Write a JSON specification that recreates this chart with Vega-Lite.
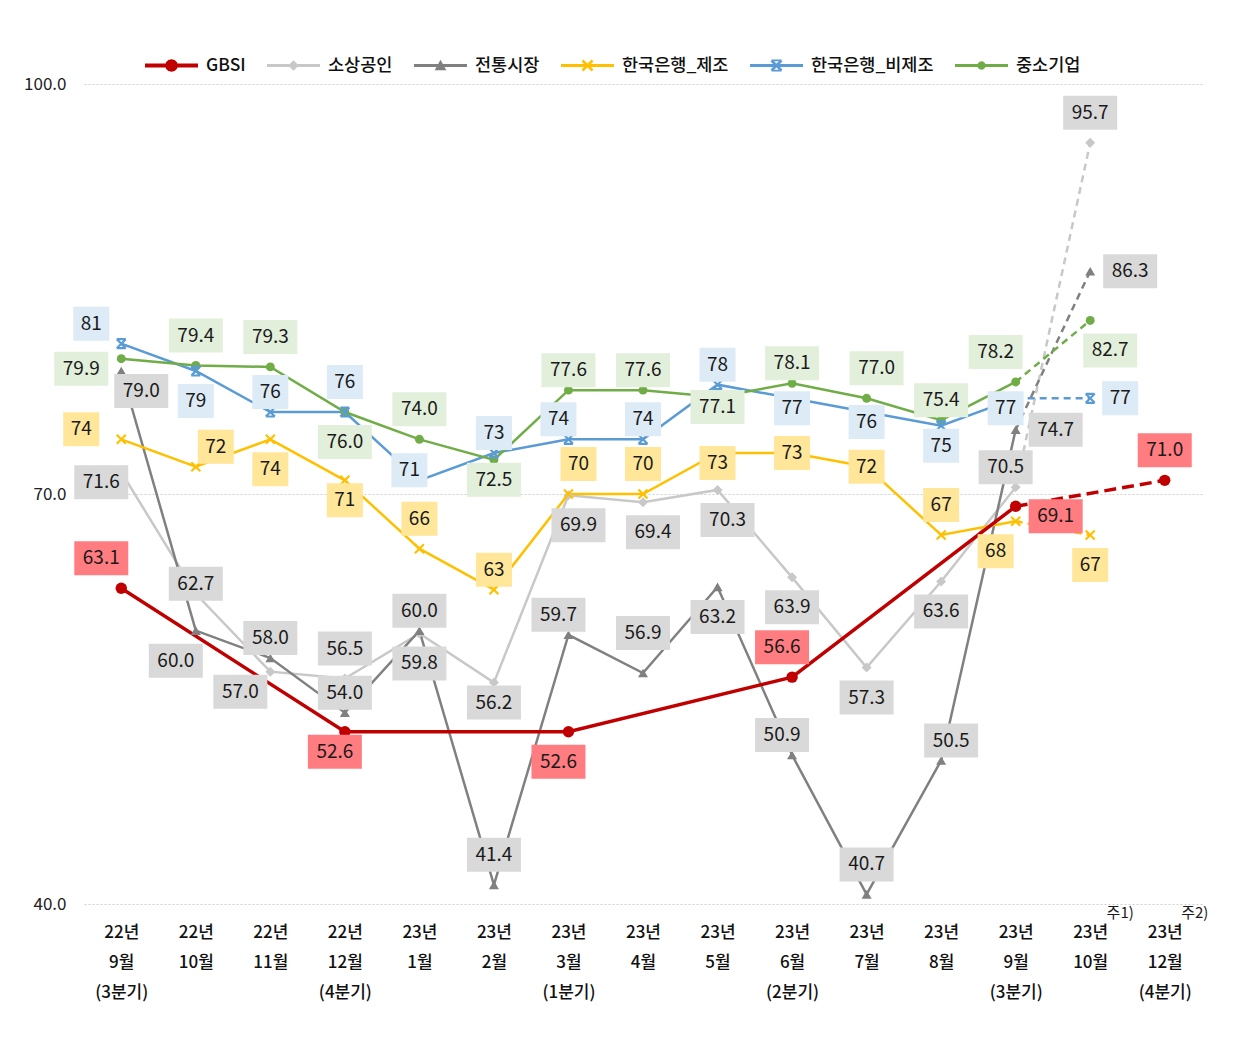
{
  "$schema": "https://vega.github.io/schema/vega-lite/v6.json",
  "width": 1118,
  "height": 820,
  "autosize": {"type": "none"},
  "padding": {"left": 84, "top": 84, "right": 41, "bottom": 136},
  "background": "white",
  "config": {"view": {"stroke": null}, "font": "Noto Sans CJK KR"},
  "data": {
    "values": [
      {"series": "소상공인", "month": "22년 9월 (3분기)", "value": 71.6, "h": "L2", "v": "D1"},
      {"series": "소상공인", "month": "22년 10월", "value": 62.7, "h": "C", "v": "U1"},
      {"series": "소상공인", "month": "22년 11월", "value": 57.0, "h": "L3", "v": "D2"},
      {"series": "소상공인", "month": "22년 12월 (4분기)", "value": 56.5, "h": "C", "v": "U3"},
      {"series": "소상공인", "month": "23년 1월", "value": 59.8, "h": "C", "v": "D3"},
      {"series": "소상공인", "month": "23년 2월", "value": 56.2, "h": "C", "v": "D2"},
      {"series": "소상공인", "month": "23년 3월 (1분기)", "value": 69.9, "h": "R1", "v": "D3"},
      {"series": "소상공인", "month": "23년 4월", "value": 69.4, "h": "R1", "v": "D3"},
      {"series": "소상공인", "month": "23년 5월", "value": 70.3, "h": "R1", "v": "D3"},
      {"series": "소상공인", "month": "23년 6월 (2분기)", "value": 63.9, "h": "C", "v": "D3"},
      {"series": "소상공인", "month": "23년 7월", "value": 57.3, "h": "C", "v": "D3"},
      {"series": "소상공인", "month": "23년 8월", "value": 63.6, "h": "C", "v": "D3"},
      {"series": "소상공인", "month": "23년 9월 (3분기)", "value": 70.5, "h": "L1", "v": "U2"},
      {"series": "소상공인", "month": "23년 10월", "value": 95.7, "h": "C", "v": "U3", "note": "주1)"},

      {"series": "전통시장", "month": "22년 9월 (3분기)", "value": 79.0, "h": "R2", "v": "D2"},
      {"series": "전통시장", "month": "22년 10월", "value": 60.0, "h": "L2", "v": "D3"},
      {"series": "전통시장", "month": "22년 11월", "value": 58.0, "h": "C", "v": "U2"},
      {"series": "전통시장", "month": "22년 12월 (4분기)", "value": 54.0, "h": "C", "v": "U2"},
      {"series": "전통시장", "month": "23년 1월", "value": 60.0, "h": "C", "v": "U2"},
      {"series": "전통시장", "month": "23년 2월", "value": 41.4, "h": "C", "v": "U3"},
      {"series": "전통시장", "month": "23년 3월 (1분기)", "value": 59.7, "h": "L1", "v": "U2"},
      {"series": "전통시장", "month": "23년 4월", "value": 56.9, "h": "C", "v": "U4"},
      {"series": "전통시장", "month": "23년 5월", "value": 63.2, "h": "C", "v": "D3"},
      {"series": "전통시장", "month": "23년 6월 (2분기)", "value": 50.9, "h": "L1", "v": "U2"},
      {"series": "전통시장", "month": "23년 7월", "value": 40.7, "h": "C", "v": "U3"},
      {"series": "전통시장", "month": "23년 8월", "value": 50.5, "h": "R1", "v": "U2"},
      {"series": "전통시장", "month": "23년 9월 (3분기)", "value": 74.7, "h": "R4", "v": "M"},
      {"series": "전통시장", "month": "23년 10월", "value": 86.3, "h": "R4", "v": "M"},

      {"series": "한국은행_제조", "month": "22년 9월 (3분기)", "value": 74, "h": "L4", "v": "U1"},
      {"series": "한국은행_제조", "month": "22년 10월", "value": 72, "h": "R2", "v": "U2"},
      {"series": "한국은행_제조", "month": "22년 11월", "value": 74, "h": "C", "v": "D3"},
      {"series": "한국은행_제조", "month": "22년 12월 (4분기)", "value": 71, "h": "C", "v": "D2"},
      {"series": "한국은행_제조", "month": "23년 1월", "value": 66, "h": "C", "v": "U3"},
      {"series": "한국은행_제조", "month": "23년 2월", "value": 63, "h": "C", "v": "U2"},
      {"series": "한국은행_제조", "month": "23년 3월 (1분기)", "value": 70, "h": "R1", "v": "U3"},
      {"series": "한국은행_제조", "month": "23년 4월", "value": 70, "h": "C", "v": "U3"},
      {"series": "한국은행_제조", "month": "23년 5월", "value": 73, "h": "C", "v": "D1"},
      {"series": "한국은행_제조", "month": "23년 6월 (2분기)", "value": 73, "h": "C", "v": "M"},
      {"series": "한국은행_제조", "month": "23년 7월", "value": 72, "h": "C", "v": "M"},
      {"series": "한국은행_제조", "month": "23년 8월", "value": 67, "h": "C", "v": "U3"},
      {"series": "한국은행_제조", "month": "23년 9월 (3분기)", "value": 68, "h": "L2", "v": "D3"},
      {"series": "한국은행_제조", "month": "23년 10월", "value": 67, "h": "C", "v": "D3"},

      {"series": "한국은행_비제조", "month": "22년 9월 (3분기)", "value": 81, "h": "L3", "v": "U2"},
      {"series": "한국은행_비제조", "month": "22년 10월", "value": 79, "h": "C", "v": "D3"},
      {"series": "한국은행_비제조", "month": "22년 11월", "value": 76, "h": "C", "v": "U2"},
      {"series": "한국은행_비제조", "month": "22년 12월 (4분기)", "value": 76, "h": "C", "v": "U3"},
      {"series": "한국은행_비제조", "month": "23년 1월", "value": 71, "h": "L1", "v": "U1"},
      {"series": "한국은행_비제조", "month": "23년 2월", "value": 73, "h": "C", "v": "U2"},
      {"series": "한국은행_비제조", "month": "23년 3월 (1분기)", "value": 74, "h": "L1", "v": "U2"},
      {"series": "한국은행_비제조", "month": "23년 4월", "value": 74, "h": "C", "v": "U2"},
      {"series": "한국은행_비제조", "month": "23년 5월", "value": 78, "h": "C", "v": "U2"},
      {"series": "한국은행_비제조", "month": "23년 6월 (2분기)", "value": 77, "h": "C", "v": "D1"},
      {"series": "한국은행_비제조", "month": "23년 7월", "value": 76, "h": "C", "v": "D1"},
      {"series": "한국은행_비제조", "month": "23년 8월", "value": 75, "h": "C", "v": "D2"},
      {"series": "한국은행_비제조", "month": "23년 9월 (3분기)", "value": 77, "h": "L1", "v": "D1"},
      {"series": "한국은행_비제조", "month": "23년 10월", "value": 77, "h": "R3", "v": "M"},

      {"series": "중소기업", "month": "22년 9월 (3분기)", "value": 79.9, "h": "L4", "v": "D1"},
      {"series": "중소기업", "month": "22년 10월", "value": 79.4, "h": "C", "v": "U3"},
      {"series": "중소기업", "month": "22년 11월", "value": 79.3, "h": "C", "v": "U3"},
      {"series": "중소기업", "month": "22년 12월 (4분기)", "value": 76.0, "h": "C", "v": "D3"},
      {"series": "중소기업", "month": "23년 1월", "value": 74.0, "h": "C", "v": "U3"},
      {"series": "중소기업", "month": "23년 2월", "value": 72.5, "h": "C", "v": "D2"},
      {"series": "중소기업", "month": "23년 3월 (1분기)", "value": 77.6, "h": "C", "v": "U2"},
      {"series": "중소기업", "month": "23년 4월", "value": 77.6, "h": "C", "v": "U2"},
      {"series": "중소기업", "month": "23년 5월", "value": 77.1, "h": "C", "v": "D1"},
      {"series": "중소기업", "month": "23년 6월 (2분기)", "value": 78.1, "h": "C", "v": "U2"},
      {"series": "중소기업", "month": "23년 7월", "value": 77.0, "h": "R1", "v": "U3"},
      {"series": "중소기업", "month": "23년 8월", "value": 75.4, "h": "C", "v": "U2"},
      {"series": "중소기업", "month": "23년 9월 (3분기)", "value": 78.2, "h": "L2", "v": "U3"},
      {"series": "중소기업", "month": "23년 10월", "value": 82.7, "h": "R2", "v": "D3"},

      {"series": "GBSI", "month": "22년 9월 (3분기)", "value": 63.1, "h": "L2", "v": "U3"},
      {"series": "GBSI", "month": "22년 12월 (4분기)", "value": 52.6, "h": "L1", "v": "D2"},
      {"series": "GBSI", "month": "23년 3월 (1분기)", "value": 52.6, "h": "L1", "v": "D3"},
      {"series": "GBSI", "month": "23년 6월 (2분기)", "value": 56.6, "h": "L1", "v": "U3"},
      {"series": "GBSI", "month": "23년 9월 (3분기)", "value": 69.1, "h": "R4", "v": "D1"},
      {"series": "GBSI", "month": "23년 12월 (4분기)", "value": 71.0, "h": "C", "v": "U3", "note": "주2)"}
    ]
  },
  "encoding": {
    "x": {
      "field": "month",
      "type": "ordinal",
      "scale": {
        "type": "point",
        "padding": 0.5,
        "domain": ["22년 9월 (3분기)", "22년 10월", "22년 11월", "22년 12월 (4분기)", "23년 1월", "23년 2월", "23년 3월 (1분기)", "23년 4월", "23년 5월", "23년 6월 (2분기)", "23년 7월", "23년 8월", "23년 9월 (3분기)", "23년 10월", "23년 12월 (4분기)"]
      },
      "axis": {
        "title": null,
        "domain": false,
        "ticks": false,
        "grid": false,
        "labelAngle": 0,
        "labelExpr": "split(datum.label, ' ')",
        "labelFont": "Noto Sans CJK KR",
        "labelFontSize": 17,
        "labelFontWeight": 500,
        "labelColor": "#111111",
        "labelLineHeight": 30,
        "labelPadding": 20,
        "labelBaseline": "top",
        "labelOverlap": false,
        "labelBound": false
      }
    },
    "y": {
      "field": "value",
      "type": "quantitative",
      "scale": {"domain": [40, 100], "nice": false, "zero": false},
      "axis": {
        "title": null,
        "values": [40, 70, 100],
        "format": ".1f",
        "domain": false,
        "ticks": false,
        "grid": true,
        "gridColor": "#CFCFCF",
        "gridDash": [2, 2],
        "labelFont": "Noto Sans CJK KR",
        "labelFontSize": 17,
        "labelColor": "#222222",
        "labelPadding": 18
      }
    }
  },
  "layer": [
    {
      "transform": [{"filter": "false"}],
      "mark": {"type": "point", "filled": true, "opacity": 0},
      "encoding": {
        "color": {
          "field": "series",
          "type": "nominal",
          "scale": {
            "domain": ["GBSI", "소상공인", "전통시장", "한국은행_제조", "한국은행_비제조", "중소기업"],
            "range": ["#C00000", "#C8C8C8", "#808080", "#FFC000", "#5B9BD5", "#70AD47"]
          },
          "legend": {
            "title": null,
            "orient": "none",
            "legendX": 61,
            "legendY": -45,
            "direction": "horizontal",
            "padding": 0,
            "symbolSize": 2809,
            "symbolOpacity": 1,
            "symbolStrokeWidth": 0,
            "labelFont": "Noto Sans CJK KR",
            "labelFontSize": 17.5,
            "labelFontWeight": 500,
            "labelColor": "#111111",
            "labelOffset": 8,
            "columnPadding": 21
          }
        },
        "shape": {
          "field": "series",
          "type": "nominal",
          "scale": {
            "domain": ["GBSI", "소상공인", "전통시장", "한국은행_제조", "한국은행_비제조", "중소기업"],
            "range": [
              "M-1,-0.075L1,-0.075L1,0.075L-1,0.075Z M0.24,0L0.208,0.12L0.12,0.208L0,0.24L-0.12,0.208L-0.208,0.12L-0.24,0L-0.208,-0.12L-0.12,-0.208L0,-0.24L0.12,-0.208L0.208,-0.12Z",
              "M-1,-0.055L1,-0.055L1,0.055L-1,0.055Z M0,-0.2L0.2,0L0,0.2L-0.2,0Z",
              "M-1,-0.055L1,-0.055L1,0.055L-1,0.055Z M0,-0.22L0.22,0.18L-0.22,0.18Z",
              "M-1,-0.055L1,-0.055L1,0.055L-1,0.055Z M-0.155,-0.225L0.225,0.155L0.155,0.225L-0.225,-0.155Z M0.155,-0.225L0.225,-0.155L-0.155,0.225L-0.225,0.155Z",
              "M-1,-0.055L1,-0.055L1,0.055L-1,0.055Z M-0.155,-0.225L0.225,0.155L0.155,0.225L-0.225,-0.155Z M0.155,-0.225L0.225,-0.155L-0.155,0.225L-0.225,0.155Z M-0.19,-0.225L0.19,-0.225L0.19,-0.16L-0.19,-0.16Z M-0.19,0.16L0.19,0.16L0.19,0.225L-0.19,0.225Z",
              "M-1,-0.055L1,-0.055L1,0.055L-1,0.055Z M0.16,0L0.139,0.08L0.08,0.139L0,0.16L-0.08,0.139L-0.139,0.08L-0.16,0L-0.139,-0.08L-0.08,-0.139L0,-0.16L0.08,-0.139L0.139,-0.08Z"
            ]
          },
          "legend": {
            "title": null,
            "orient": "none",
            "legendX": 61,
            "legendY": -45,
            "direction": "horizontal",
            "padding": 0,
            "symbolSize": 2809,
            "symbolOpacity": 1,
            "symbolStrokeWidth": 0,
            "labelFont": "Noto Sans CJK KR",
            "labelFontSize": 17.5,
            "labelFontWeight": 500,
            "labelColor": "#111111",
            "labelOffset": 8,
            "columnPadding": 21
          }
        }
      }
    },
    {
      "transform": [{"filter": {"not": {"field": "month", "oneOf": ["23년 10월", "23년 12월 (4분기)"]}}}],
      "mark": {"type": "line"},
      "encoding": {
        "color": {"field": "series", "type": "nominal"},
        "strokeWidth": {"condition": {"test": "datum.series === 'GBSI'", "value": 3.5}, "value": 2.5}
      }
    },
    {
      "transform": [{"filter": {"field": "month", "oneOf": ["23년 9월 (3분기)", "23년 10월", "23년 12월 (4분기)"]}}],
      "mark": {"type": "line"},
      "encoding": {
        "color": {"field": "series", "type": "nominal"},
        "strokeWidth": {"condition": {"test": "datum.series === 'GBSI'", "value": 3.5}, "value": 2.5},
        "strokeDash": {"condition": {"test": "datum.series === 'GBSI'", "value": [12, 6]}, "value": [7, 5]}
      }
    },
    {
      "transform": [{"filter": {"field": "series", "oneOf": ["GBSI", "소상공인", "전통시장", "중소기업"]}}],
      "mark": {"type": "point", "filled": true, "opacity": 1},
      "encoding": {
        "color": {"field": "series", "type": "nominal"},
        "shape": {
          "condition": [
            {"test": "datum.series === '소상공인'", "value": "diamond"},
            {"test": "datum.series === '전통시장'", "value": "triangle-up"}
          ],
          "value": "circle"
        },
        "size": {
          "condition": [
            {"test": "datum.series === 'GBSI'", "value": 130},
            {"test": "datum.series === '중소기업'", "value": 80}
          ],
          "value": 100
        }
      }
    },
    {
      "transform": [{"filter": {"field": "series", "oneOf": ["한국은행_제조", "한국은행_비제조"]}}],
      "mark": {"type": "point", "filled": false, "opacity": 1, "strokeWidth": 2.2},
      "encoding": {
        "color": {"field": "series", "type": "nominal"},
        "shape": {
          "condition": {"test": "datum.series === '한국은행_비제조'", "value": "M-1,-1L1,1M1,-1L-1,1M-1,-1L1,-1M-1,1L1,1"},
          "value": "M-1,-1L1,1M1,-1L-1,1"
        },
        "size": {"value": 81}
      }
    },
    {
      "mark": {
        "type": "rect",
        "xOffset": {"expr": "(indexof(['L4','L3','L2','L1','C','R1','R2','R3','R4'], datum.h) - 4) * 10 - (indexof(datum.series, '한국은행') === 0 ? 18 : 27)"},
        "x2Offset": {"expr": "(indexof(['L4','L3','L2','L1','C','R1','R2','R3','R4'], datum.h) - 4) * 10 + (indexof(datum.series, '한국은행') === 0 ? 18 : 27)"},
        "yOffset": {"expr": "(indexof(['U4','U3','U2','U1','M','D1','D2','D3','D4'], datum.v) - 4) * 10 - 17"},
        "y2Offset": {"expr": "(indexof(['U4','U3','U2','U1','M','D1','D2','D3','D4'], datum.v) - 4) * 10 + 17"}
      },
      "encoding": {
        "x2": {"field": "month"},
        "y2": {"field": "value"},
        "fill": {
          "field": "series",
          "type": "nominal",
          "scale": {
            "domain": ["GBSI", "소상공인", "전통시장", "한국은행_제조", "한국은행_비제조", "중소기업"],
            "range": ["#FF7C80", "#D9D9D9", "#D9D9D9", "#FFE699", "#DDEBF7", "#E2EFDA"]
          },
          "legend": null
        }
      }
    },
    {
      "mark": {
        "type": "text",
        "font": "Noto Sans CJK KR",
        "fontSize": 19,
        "color": "#1A1A1A",
        "align": "center",
        "baseline": "middle",
        "dx": {"expr": "(indexof(['L4','L3','L2','L1','C','R1','R2','R3','R4'], datum.h) - 4) * 10"},
        "dy": {"expr": "(indexof(['U4','U3','U2','U1','M','D1','D2','D3','D4'], datum.v) - 4) * 10"}
      },
      "encoding": {
        "text": {
          "condition": {"test": "indexof(datum.series, '한국은행') === 0", "field": "value", "type": "quantitative", "format": "d"},
          "field": "value",
          "type": "quantitative",
          "format": ".1f"
        }
      }
    },
    {
      "transform": [{"filter": "isValid(datum.note)"}],
      "mark": {"type": "text", "font": "Noto Sans CJK KR", "fontSize": 15, "color": "#1A1A1A", "dx": 30, "dy": 9},
      "encoding": {
        "y": {"datum": 40},
        "text": {"field": "note", "type": "nominal"}
      }
    }
  ]
}
